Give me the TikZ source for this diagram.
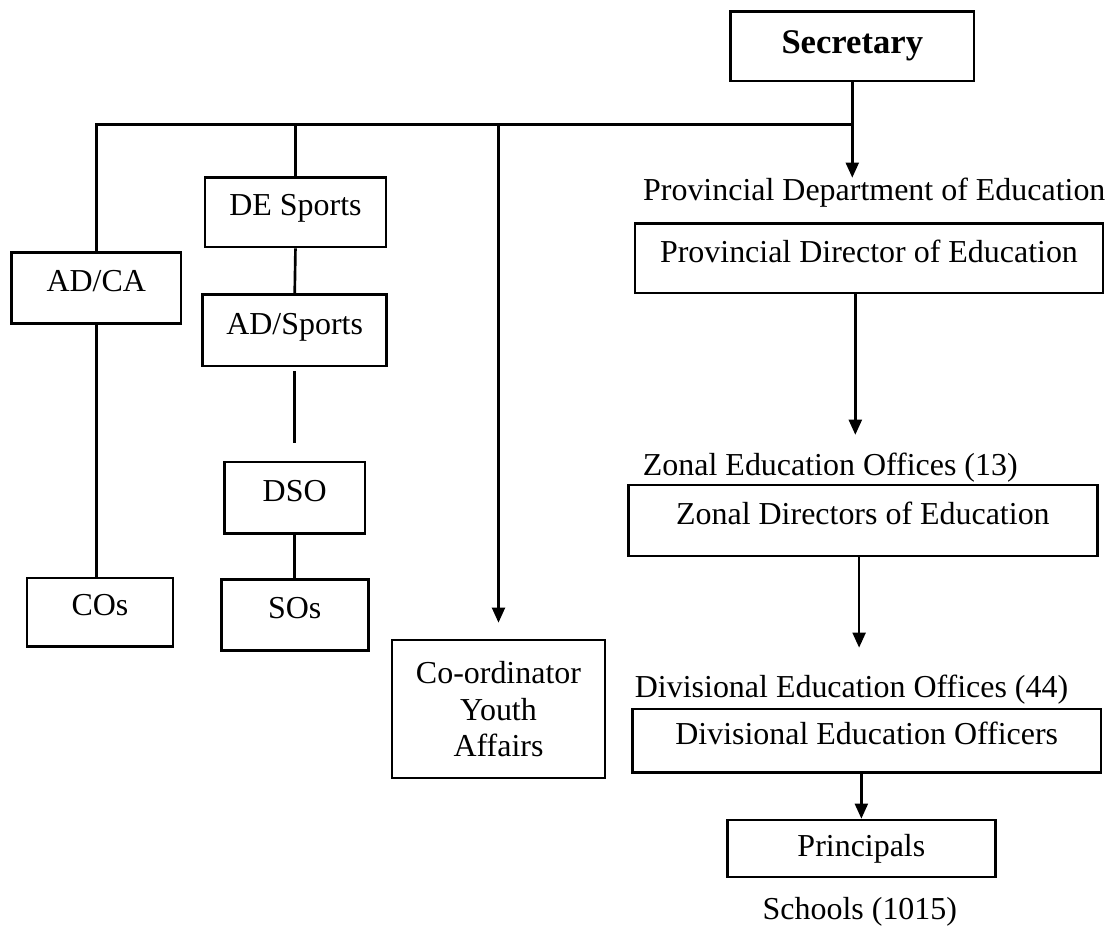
\documentclass[tikz,border=0pt]{standalone}
\usepackage{fontspec}
\setmainfont{Liberation Serif}
\usetikzlibrary{arrows.meta}

\begin{document}
\begin{tikzpicture}[
    font=\fontsize{12}{13.8}\selectfont,
    box/.style={draw, line width=1pt, inner sep=0pt, text height=0.3cm, text depth=0.2cm},
    cbox/.style={draw, line width=1pt, inner sep=0pt, align=center},
    lbl/.style={inner sep=0pt, anchor=base},
    link/.style={line width=1pt},
    arr/.style={line width=1pt, -{Triangle[length=0.2cm, width=0.17cm]}}
]
    \useasboundingbox (0,0) rectangle (14.665,12.25);

    % the boss up top
    \node [cbox, minimum width=3.21cm, minimum height=0.92cm] (sec) at (11.25,11.64) {\fontsize{13}{15}\selectfont\bfseries Secretary};

    % left branches, sports and cultural stuff
    \node [box, minimum width=2.24cm, minimum height=0.94cm] (adca) at (1.27,8.45) {AD/CA};
    \node [box, minimum width=1.93cm, minimum height=0.90cm] (cos) at (1.32,4.17) {COs};
    \node [box, minimum width=2.39cm, minimum height=0.92cm] (desports) at (3.90,9.45) {DE Sports};
    \node [box, minimum width=2.43cm, minimum height=0.94cm] (adsports) at (3.89,7.89) {AD/Sports};
    \node [box, minimum width=1.86cm, minimum height=0.94cm] (dso) at (3.89,5.68) {DSO};
    \node [box, minimum width=1.94cm, minimum height=0.94cm] (sos) at (3.89,4.13) {SOs};
    \node [cbox, minimum width=2.81cm, minimum height=1.82cm] (coord) at (6.58,2.89) {Co-ordinator\\Youth\\Affairs};

    % the education chain on the right
    \node [lbl] (pdept) at (11.54,9.60) {Provincial Department of Education};
    \node [box, minimum width=6.18cm, minimum height=0.92cm] (pde) at (11.47,8.84) {Provincial Director of Education};
    \node [lbl] (zeo) at (10.96,5.97) {Zonal Education Offices (13)};
    \node [box, minimum width=6.19cm, minimum height=0.94cm] (zde) at (11.39,5.38) {Zonal Directors of Education};
    \node [lbl] (divo) at (11.24,3.04) {Divisional Education Offices (44)};
    \node [box, minimum width=6.19cm, minimum height=0.84cm] (deo) at (11.44,2.47) {Divisional Education Officers};
    \node [cbox, minimum width=3.54cm, minimum height=0.75cm] (prin) at (11.37,1.05) {Principals};
    \node [lbl] (schools) at (11.35,0.11) {Schools (1015)};

    % free ends of the lines
    \coordinate (jn) at (11.25,10.61);
    \coordinate (ctip) at (6.58,4.03);
    \coordinate (gtop) at (3.89,7.35);
    \coordinate (gbot) at (3.89,6.40);
    \coordinate (ztip) at (11.29,6.51);
    \coordinate (dtip) at (11.34,3.70);

    \draw [link] (adca.north) -- (adca.north |- jn) -- (jn);
    \draw [arr] (sec.south) -- (sec.south |- pdept.north);
    \draw [link] (desports.north) -- (desports.north |- jn);
    \draw [arr] (ctip |- jn) -- (ctip);

    \draw [link] (adca.south) -- (adca.south |- cos.north);
    \draw [link] (desports.south) -- (adsports.north);
    \draw [link] (gtop) -- (gbot);
    \draw [link] (dso.south) -- (sos.north);

    \draw [arr] (pde.south -| ztip) -- (ztip);
    \draw [arr] (zde.south -| dtip) -- (dtip);
    \draw [arr] (deo.south -| prin.north) -- (prin.north);
\end{tikzpicture}
\end{document}
